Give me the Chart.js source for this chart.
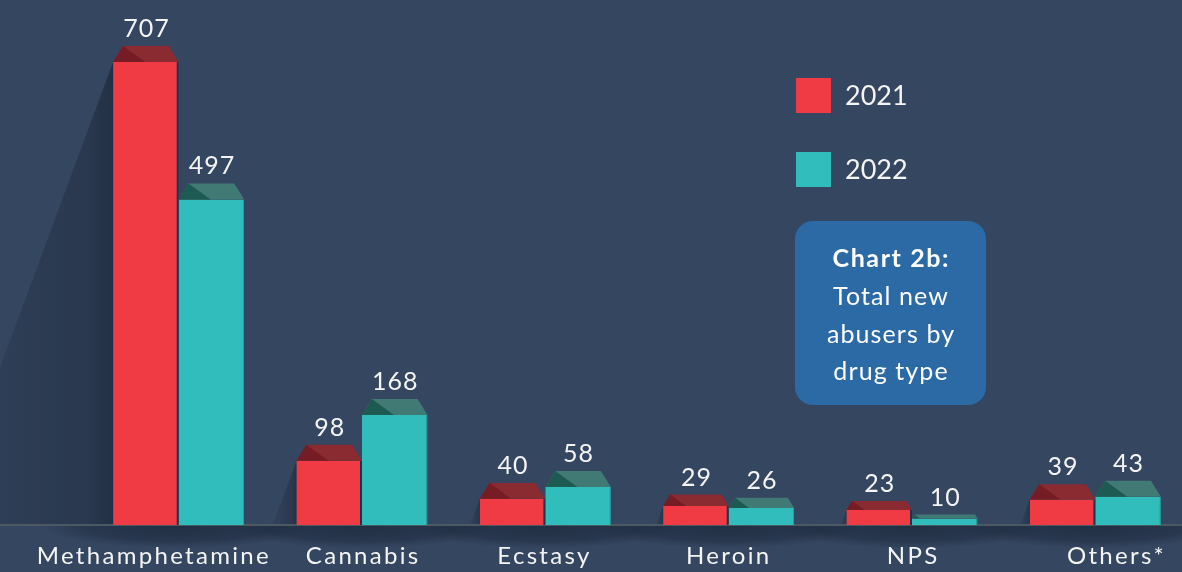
<!DOCTYPE html>
<html><head><meta charset="utf-8">
<script src="https://cdn.jsdelivr.net/npm/chart.js@4/dist/chart.umd.min.js"></script>
<style>
html,body{margin:0;padding:0;background:#344660;overflow:hidden}
#wrap{width:1182px;height:572px;overflow:hidden;position:relative;background:#344660}
canvas{display:block}
</style></head><body>
<div id="wrap"><canvas id="c" width="1190" height="572"></canvas></div>
<script>
const categories = ['Methamphetamine','Cannabis','Ecstasy','Heroin','NPS','Others*'];
const values2021 = [707, 98, 40, 29, 23, 39];
const values2022 = [497, 168, 58, 26, 10, 43];
const seriesLabels = ['2021', '2022'];
const boxTitle = 'Chart 2b:';
const boxLines = ['Total new', 'abusers by', 'drug type'];

const FONT = 'Lato, "Open Sans", sans-serif';
const RED = '#f03a44', TEAL = '#30bdbb';
const ROOF = [['#761c24', '#8a2a31'], ['#1d5a52', '#417a74']];
const labelShift = [-26, 0, -2, -1, 0, 20];

function spacedText(ctx, text, x, y, spacing) {
  ctx.letterSpacing = spacing + 'px';
  const align = ctx.textAlign;
  let dx = 0;
  if (align === 'center') dx = spacing / 2;
  ctx.fillText(text, x + dx, y);
  ctx.letterSpacing = '0px';
}

const decor = {
  id: 'decor',
  beforeDatasetsDraw(chart) {
    const ctx = chart.ctx;
    const base = chart.scales.y.getPixelForValue(0);
    const W = chart.width, H = chart.height;
    ctx.save();
    ctx.beginPath(); ctx.rect(0, base, W, H - base); ctx.clip();
    categories.forEach((c, i) => {
      const cx = chart.scales.x.getPixelForValue(i);
      ctx.save();
      ctx.translate(cx, base);
      ctx.scale(1, 0.17);
      const g = ctx.createRadialGradient(0, 0, 0, 0, 0, 135);
      g.addColorStop(0, 'rgba(30,42,62,0.85)');
      g.addColorStop(0.7, 'rgba(30,42,62,0.5)');
      g.addColorStop(1, 'rgba(30,42,62,0)');
      ctx.fillStyle = g;
      ctx.beginPath(); ctx.arc(0, 0, 135, 0, Math.PI * 2); ctx.fill();
      ctx.restore();
    });
    ctx.restore();
    const meta = chart.getDatasetMeta(0);
    ctx.save();
    meta.data.forEach(bar => {
      const left = bar.x - bar.width / 2, top = bar.y, h = base - top;
      const dx = h * 0.37;
      const g = ctx.createLinearGradient(left, 0, left - dx, 0);
      g.addColorStop(0, 'rgba(24,34,50,0.6)');
      g.addColorStop(0.15, 'rgba(28,38,55,0.42)');
      g.addColorStop(1, 'rgba(30,42,60,0.15)');
      ctx.fillStyle = g;
      ctx.beginPath();
      ctx.moveTo(left, top);
      ctx.lineTo(left - dx, base);
      ctx.lineTo(left, base);
      ctx.closePath(); ctx.fill();
    });
    ctx.restore();
    ctx.save();
    ctx.fillStyle = '#4b5a62';
    ctx.fillRect(0, base - 1, W, 2);
    ctx.restore();
  },
  afterDatasetsDraw(chart) {
    const ctx = chart.ctx;
    ctx.save();
    [0, 1].forEach(di => {
      const meta = chart.getDatasetMeta(di);
      const vals = chart.data.datasets[di].data;
      meta.data.forEach((bar, i) => {
        const w = bar.width, l = bar.x - w / 2, r = bar.x + w / 2, top = bar.y;
        const rh = Math.min(16, (bar.base - top) * 0.6);
        const inset = rh * 0.62, split = l + rh * 2;
        ctx.fillStyle = ROOF[di][1];
        ctx.beginPath();
        ctx.moveTo(l + inset, top - rh); ctx.lineTo(r - inset, top - rh);
        ctx.lineTo(r, top); ctx.lineTo(l, top); ctx.closePath(); ctx.fill();
        ctx.fillStyle = ROOF[di][0];
        ctx.beginPath();
        ctx.moveTo(l, top); ctx.lineTo(l + inset, top - rh); ctx.lineTo(split, top);
        ctx.closePath(); ctx.fill();
        ctx.fillStyle = '#f4f4f4';
        ctx.font = '25px ' + FONT;
        ctx.textAlign = 'center'; ctx.textBaseline = 'alphabetic';
        spacedText(ctx, String(vals[i]), bar.x, top - rh - 9, 1);
      });
    });
    ctx.restore();
  },
  afterDraw(chart) {
    const ctx = chart.ctx;
    ctx.save();
    ctx.fillStyle = '#f4f4f4';
    ctx.font = '24px ' + FONT;
    ctx.textAlign = 'center'; ctx.textBaseline = 'alphabetic';
    categories.forEach((c, i) => {
      spacedText(ctx, c, chart.scales.x.getPixelForValue(i) + labelShift[i], 564, 2.3);
    });
    const legendY = [78, 152];
    chart.data.datasets.forEach((ds, i) => {
      ctx.fillStyle = ds.backgroundColor;
      ctx.fillRect(796, legendY[i], 35, 35);
      ctx.fillStyle = '#f4f4f4';
      ctx.font = '27px ' + FONT;
      ctx.textAlign = 'left'; ctx.textBaseline = 'middle';
      ctx.fillText(ds.label, 845, legendY[i] + 18);
    });
    ctx.fillStyle = '#2c6aa6';
    ctx.beginPath();
    ctx.roundRect(795, 221, 191, 184, 18);
    ctx.fill();
    ctx.fillStyle = '#ffffff';
    ctx.textAlign = 'center'; ctx.textBaseline = 'alphabetic';
    ctx.font = 'bold 25px ' + FONT;
    spacedText(ctx, boxTitle, 890.5, 267, 1.6);
    ctx.font = '25px ' + FONT;
    const ys = [305, 343, 380];
    boxLines.forEach((t, i) => spacedText(ctx, t, 890.5, ys[i], 1.1));
    ctx.restore();
  }
};

new Chart(document.getElementById('c'), {
  type: 'bar',
  data: {
    labels: categories,
    datasets: [
      { label: seriesLabels[0], data: values2021, backgroundColor: RED,
        borderColor: '#22324a', borderWidth: { top: 0, left: 0, bottom: 0, right: 2 }, borderSkipped: false },
      { label: seriesLabels[1], data: values2022, backgroundColor: TEAL,
        borderColor: '#2aa9a8', borderWidth: { top: 0, left: 0, bottom: 0, right: 1 }, borderSkipped: false }
    ]
  },
  options: {
    responsive: false,
    animation: false,
    devicePixelRatio: 1,
    layout: { padding: { left: 87, right: 3, top: 1, bottom: 47 } },
    datasets: { bar: { barPercentage: 1, categoryPercentage: 0.715 } },
    scales: {
      x: { display: false },
      y: { display: false, min: 0, max: 800 }
    },
    plugins: { legend: { display: false }, tooltip: { enabled: false } }
  },
  plugins: [decor]
});
</script>
</body></html>
